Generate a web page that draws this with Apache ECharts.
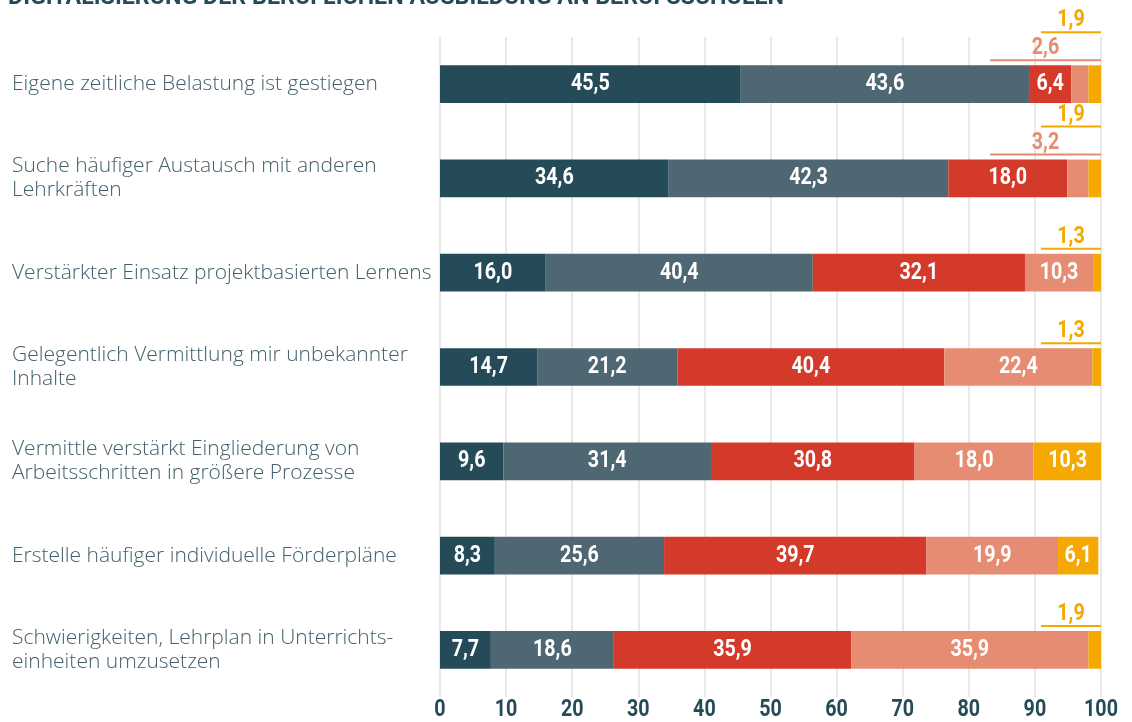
<!DOCTYPE html>
<html>
<head>
<meta charset="utf-8">
<script src="https://cdn.jsdelivr.net/npm/echarts@6/dist/echarts.min.js"></script>
<style>
  html, body { margin: 0; padding: 0; background: #fff; }
  #chart { width: 1132px; height: 722px; }
</style>
</head>
<body>
<div id="chart"></div>
<script>
var categories = [
    'Eigene zeitliche Belastung ist gestiegen',
    'Suche häufiger Austausch mit anderen\nLehrkräften',
    'Verstärkter Einsatz projektbasierten Lernens',
    'Gelegentlich Vermittlung mir unbekannter\nInhalte',
    'Vermittle verstärkt Eingliederung von\nArbeitsschritten in größere Prozesse',
    'Erstelle häufiger individuelle Förderpläne',
    'Schwierigkeiten, Lehrplan in Unterrichts-\neinheiten umzusetzen'
];
var s1 = [45.5, 34.6, 16.0, 14.7, 9.6, 8.3, 7.7];
var s2 = [43.6, 42.3, 40.4, 21.2, 31.4, 25.6, 18.6];
var s3 = [6.4, 18.0, 32.1, 40.4, 30.8, 39.7, 35.9];
var s4 = [2.6, 3.2, 10.3, 22.4, 18.0, 19.9, 35.9];
var s5 = [1.9, 1.9, 1.3, 1.3, 10.3, 6.1, 1.9];
var xTicks = [0, 10, 20, 30, 40, 50, 60, 70, 80, 90, 100];

var colors = ['#254b58', '#4f6772', '#d33a2a', '#e68c72', '#f5a800'];
var allSeries = [s1, s2, s3, s4, s5];
var numFont = 'bold 24px Roboto, sans-serif';
var squeeze = 0.82;   // fake a condensed face

function fmt(v) { return v.toFixed(1).replace('.', ','); }

function numText(x, y, txt, fill) {
    return {
        type: 'text',
        x: x, y: y,
        scaleX: squeeze,
        style: { text: txt, x: 0, y: 0, align: 'center', verticalAlign: 'middle', fill: fill, font: numFont }
    };
}

var myChart = echarts.init(document.getElementById('chart'));

var barSeries = allSeries.map(function (arr, k) {
    return {
        type: 'bar',
        stack: 'total',
        barWidth: '40%',
        data: arr,
        itemStyle: { color: colors[k] }
    };
});

// value labels: inside the segment, or above the bar with a rule when small
var labelSeries = {
    type: 'custom',
    data: categories.map(function (c, i) { return [100, i]; }),
    encode: { x: 0, y: 1 },
    silent: true,
    z: 10,
    renderItem: function (params, api) {
        var row = params.dataIndex;
        var band = api.size([0, 1])[1];
        var cy = api.coord([0, row])[1];
        var barTop = cy - band * 0.2;
        var right = api.coord([100, row])[0];
        var children = [];
        var acc = 0;
        allSeries.forEach(function (arr, k) {
            var v = arr[row];
            if (v >= 5) {
                var cx = (api.coord([acc, row])[0] + api.coord([acc + v, row])[0]) / 2;
                children.push(numText(cx, cy, fmt(v), '#fff'));
            }
            acc += v;
        });
        var level = 0;
        var widths = { 3: 111, 4: 60 };
        [3, 4].forEach(function (k) {
            var v = allSeries[k][row];
            if (v >= 5) return;
            var y = barTop - 5 - level * 28;
            var w = widths[k];
            children.push({
                type: 'line',
                shape: { x1: right - w, y1: y, x2: right, y2: y },
                style: { stroke: colors[k], lineWidth: 2 }
            });
            children.push(numText(right - w / 2, y - 12, fmt(v), colors[k]));
            level++;
        });
        return { type: 'group', children: children };
    }
};

// x axis tick labels, drawn condensed under the plot
var tickSeries = {
    type: 'custom',
    data: xTicks.map(function (v) { return [v, categories.length - 1]; }),
    encode: { x: 0, y: 1 },
    silent: true,
    clip: false,
    renderItem: function (params, api) {
        var band = api.size([0, 1])[1];
        var p = api.coord([api.value(0), api.value(1)]);
        return numText(p[0], p[1] + band / 2 + 13, String(api.value(0)), '#254b58');
    }
};

var option = {
    animation: false,
    graphic: [{
        type: 'text',
        x: 8,
        y: 10,
        scaleX: 0.97,
        style: {
            text: 'DIGITALISIERUNG DER BERUFLICHEN AUSBILDUNG AN BERUFSSCHULEN',
            x: 0, y: 0,
            verticalAlign: 'bottom',
            fill: '#254b58',
            font: 'bold 24px Roboto, sans-serif'
        }
    }],
    grid: { left: 440, right: 31, top: 37, bottom: 25 },
    xAxis: {
        type: 'value',
        min: 0,
        max: 100,
        interval: 10,
        axisLine: { show: false },
        axisTick: { show: false },
        axisLabel: { show: false },
        splitLine: { lineStyle: { color: '#e2e2e2', width: 1.5 } }
    },
    yAxis: {
        type: 'category',
        inverse: true,
        data: categories,
        axisLine: { show: false },
        axisTick: { show: false },
        axisLabel: {
            align: 'left',
            margin: 428,
            color: '#42606b',
            fontFamily: '"Open Sans", "Noto Sans", sans-serif',
            fontWeight: 300,
            fontSize: 21,
            lineHeight: 24
        }
    },
    series: barSeries.concat([labelSeries, tickSeries])
};
myChart.setOption(option);
</script>
</body>
</html>
